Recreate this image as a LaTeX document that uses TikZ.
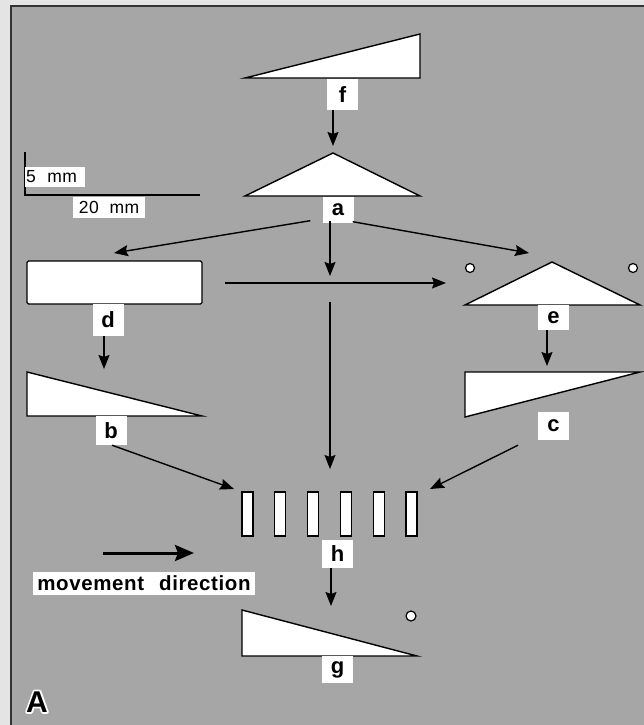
\documentclass[tikz,border=0pt]{standalone}
\usepackage{fontspec}
\setmainfont{Liberation Sans}
\newfontfamily\lettrage[LetterSpace=3]{Liberation Sans}
\usetikzlibrary{shapes}
\usetikzlibrary{arrows.meta}
\usetikzlibrary{positioning}
\usetikzlibrary{calc}
\definecolor{fond}{RGB}{166,166,166}
\definecolor{marge}{RGB}{228,228,228}
\tikzstyle{piece}=[draw,fill=white,line width=1.4pt,line join=miter]
\tikzstyle{trou}=[draw,fill=white,line width=1.2pt]
\tikzstyle{etiq}=[
        fill=white,
        inner sep=0pt,
        minimum width=31pt,
        font=\fontsize{22}{24}\selectfont\bfseries
]
\tikzstyle{echelle}=[fill=white,inner sep=0pt,font=\lettrage\fontsize{17.5}{19}\selectfont]
\tikzstyle{suite}=[-{Stealth[length=14pt,width=11pt,inset=2pt]},line width=1.4pt]
\tikzstyle{sens}=[-{Stealth[length=19pt,width=16pt,inset=3pt]},line width=3pt]
\newcommand{\contourA}{\rlap{\special{pdf:literal direct 1 1 1 RG 3.5 w 1 j 1 Tr}A\special{pdf:literal direct 0 Tr 0 0 0 RG 0.4 w 0 j}}A}

\begin{document}
\begin{tikzpicture}[x=1pt,y=-1pt]
\useasboundingbox (0,0) rectangle (644,725);
\fill[marge] (0,0) rectangle (644,725);
\filldraw[fill=fond,draw=black!80,line width=1.5pt] (11,6) rectangle (660,740);
%Echelle
\draw[line width=1.4pt] (25,152) -- (25,195) -- (200,195);
\node[echelle,minimum width=60pt,minimum height=20pt,text width=58pt,align=left] (mm5) at (55,177) {5\ \ mm};
\node[echelle,minimum width=72pt,minimum height=21pt] (mm20) at (109,207.5) {20\ \ mm};
%Pieces
\draw[piece] (245,78) -- (420,78) -- (420,34) -- cycle;
\draw[piece] (245,196) -- (420,196) -- (333,153) -- cycle;
\draw[piece,rounded corners=1.5pt] (27,261) rectangle (202,304);
\draw[piece] (27,372) -- (27,416) -- (202,416) -- cycle;
\draw[piece] (465,305) -- (640,305) -- (552,262) -- cycle;
\draw[piece] (465,372) -- (640,372) -- (465,417) -- cycle;
\draw[piece] (242,610) -- (242,656) -- (417,656) -- cycle;
\foreach \i in {0,...,5}
  \draw[piece,line width=1.2pt] (242+32.8*\i,492) rectangle (253+32.8*\i,536);
\draw[trou] (470,268) circle (4.5pt);
\draw[trou] (633,268) circle (4.5pt);
\draw[trou] (411,616) circle (5pt);
%Etiquettes
\node[etiq,minimum height=31pt] (lf) at (342.5,94.5) {f};
\node[etiq,minimum height=26pt] (la) at (338,209.5) {a};
\node[etiq,minimum height=32pt] (ld) at (108,320) {d};
\node[etiq,minimum height=29pt] (lb) at (111,430.5) {b};
\node[etiq,minimum height=25pt] (le) at (553.5,317.5) {e};
\node[etiq,minimum height=28pt] (lc) at (553.5,426) {c};
\node[etiq,minimum height=28pt] (lh) at (337.5,554) {h};
\node[etiq,minimum height=27pt] (lg) at (337.5,669.5) {g};
\node[etiq,minimum width=222pt,minimum height=23pt,font=\lettrage\fontsize{20.5}{22}\selectfont\bfseries] (mouv) at (144,583.5) {movement\hspace{15pt}direction};
%Lettre
\node[anchor=base,font=\fontsize{30}{32}\selectfont\bfseries] (lettre) at (37,712) {\contourA};
%Points d'arrivee
\coordinate (pa) at (333,146);
\coordinate (pd) at (114,253);
\coordinate (pm) at (330,276);
\coordinate (pe) at (529,253);
\coordinate (hg) at (225,283);
\coordinate (hd) at (446,283);
\coordinate (vh) at (330,302);
\coordinate (vb) at (330,469);
\coordinate (pb) at (104,369);
\coordinate (pc) at (547,366);
\coordinate (ph1) at (234,489);
\coordinate (ph2) at (430,489);
\coordinate (pg) at (331,606);
\coordinate (sg) at (103,553);
\coordinate (sd) at (194,553);
%Placement des fleches
\draw[suite] ($(lf.south)+(-9.5,0)$) -- (pa);
\draw[suite] ($(la.south west)+(-12,-2)$) -- (pd);
\draw[suite] ($(la.south)+(-8,-2)$) -- (pm);
\draw[suite] ($(la.south east)+(-1,-1)$) -- (pe);
\draw[suite] (hg) -- (hd);
\draw[suite] (vh) -- (vb);
\draw[suite] ($(ld.south)+(-4,0)$) -- (pb);
\draw[suite] ($(le.south)+(-6.5,0)$) -- (pc);
\draw[suite] ($(lb.south)+(1,0)$) -- (ph1);
\draw[suite] ($(lc.south)+(-35.5,5)$) -- (ph2);
\draw[suite] ($(lh.south)+(-6.5,0)$) -- (pg);
\draw[sens] (sg) -- (sd);
\end{tikzpicture}
\end{document}
